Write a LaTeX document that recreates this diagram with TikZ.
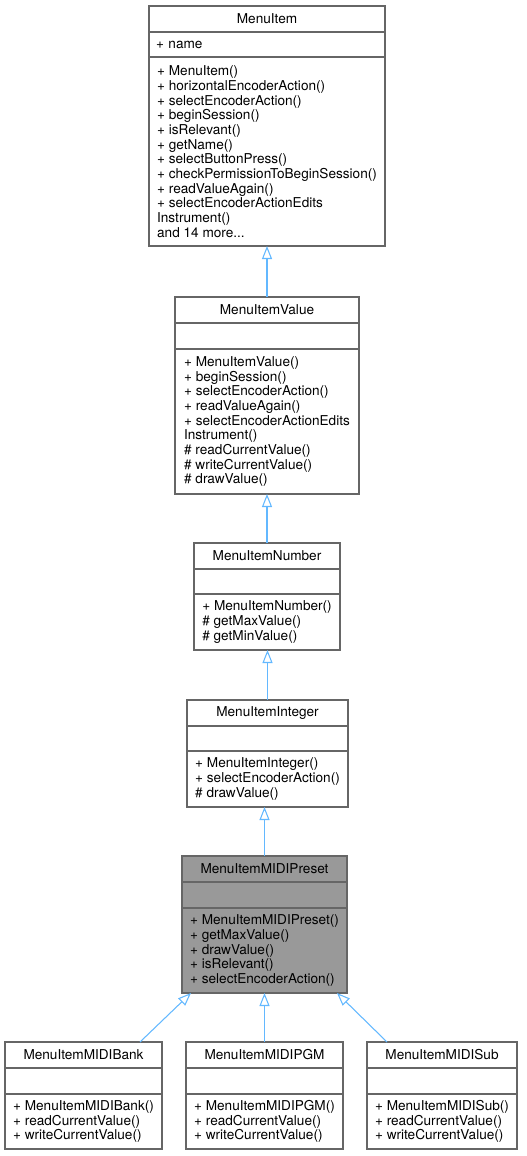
\documentclass[tikz,border=0pt]{standalone}
\usepackage{fontspec}
\setmainfont{TeX Gyre Heros}
\usetikzlibrary{arrows.meta}
\definecolor{bordergray}{HTML}{666666}
\definecolor{presetgray}{HTML}{999999}
\definecolor{edgeblue}{HTML}{63B8FF}
\begin{document}
\begin{tikzpicture}[x=0.75pt, y=-0.75pt,
  font=\fontsize{10.2}{11}\selectfont,
  sect/.style={draw=bordergray, line width=1pt, fill=white, anchor=north west,
    inner sep=0pt, outer sep=0pt, align=left},
  cls/.style 2 args={sect, minimum width=#1*0.75pt, minimum height=#2*0.75pt},
  hl/.style={fill=presetgray},
  edge/.style={draw=edgeblue, line width=0.8pt, -{Triangle[open, length=9.75pt, width=7.5pt]}}]
\useasboundingbox (0,0) rectangle (527,1156);
% MenuItem
\node[cls={236}{26}] (miT) at (149,6) {MenuItem};
\node[cls={236}{25}, text width=222*0.75pt, inner xsep=7*0.75pt] (miA) at (149,32) {+ name};
\node[cls={236}{189}] (miM) at (149,57) {+ MenuItem()\\+ horizontalEncoderAction()\\+ selectEncoderAction()\\+ beginSession()\\+ isRelevant()\\+ getName()\\+ selectButtonPress()\\+ checkPermissionToBeginSession()\\+ readValueAgain()\\+ selectEncoderActionEdits\\Instrument()\\and 14 more...};
% MenuItemValue
\node[cls={184}{26}] (mvT) at (175,297) {MenuItemValue};
\node[cls={184}{26}] (mvA) at (175,323) {};
\node[cls={184}{145}] (mvM) at (175,349) {+ MenuItemValue()\\+ beginSession()\\+ selectEncoderAction()\\+ readValueAgain()\\+ selectEncoderActionEdits\\Instrument()\\\# readCurrentValue()\\\# writeCurrentValue()\\\# drawValue()};
% MenuItemNumber
\node[cls={146}{26}] (mnT) at (194,543) {MenuItemNumber};
\node[cls={146}{25}] (mnA) at (194,569) {};
\node[cls={146}{56}] (mnM) at (194,594) {+ MenuItemNumber()\\\# getMaxValue()\\\# getMinValue()};
% MenuItemInteger
\node[cls={161}{26}] (mintT) at (187,700) {MenuItemInteger};
\node[cls={161}{25}] (mintA) at (187,726) {};
\node[cls={161}{56}] (mintM) at (187,751) {+ MenuItemInteger()\\+ selectEncoderAction()\\\# drawValue()};
% MenuItemMIDIPreset
\node[cls={165}{26}, hl] (mpT) at (182,856) {MenuItemMIDIPreset};
\node[cls={165}{26}, hl] (mpA) at (182,882) {};
\node[cls={165}{85}, hl] (mpM) at (182,908) {+ MenuItemMIDIPreset()\\+ getMaxValue()\\+ drawValue()\\+ isRelevant()\\+ selectEncoderAction()};
% MenuItemMIDIBank
\node[cls={157}{26}] (bkT) at (5,1042) {MenuItemMIDIBank};
\node[cls={157}{26}] (bkA) at (5,1068) {};
\node[cls={157}{55}] (bkM) at (5,1094) {+ MenuItemMIDIBank()\\+ readCurrentValue()\\+ writeCurrentValue()};
% MenuItemMIDIPGM
\node[cls={157}{26}] (pgT) at (186,1042) {MenuItemMIDIPGM};
\node[cls={157}{26}] (pgA) at (186,1068) {};
\node[cls={157}{55}] (pgM) at (186,1094) {+ MenuItemMIDIPGM()\\+ readCurrentValue()\\+ writeCurrentValue()};
% MenuItemMIDISub
\node[cls={150}{26}] (sbT) at (367,1042) {MenuItemMIDISub};
\node[cls={150}{26}] (sbA) at (367,1068) {};
\node[cls={150}{55}] (sbM) at (367,1094) {+ MenuItemMIDISub()\\+ readCurrentValue()\\+ writeCurrentValue()};
% inheritance edges
\draw[edge] (mvT.north) -- (mvT.north |- miM.south);
\draw[edge] (mnT.north) -- (mnT.north |- mvM.south);
\draw[edge] (mintT.north) -- (mintT.north |- mnM.south);
\draw[edge] (mpT.north) -- (mpT.north |- mintM.south);
\draw[edge] ([xshift=-22*0.75pt]bkT.north east) -- ([xshift=9*0.75pt]mpM.south west);
\draw[edge] (pgT.north) -- (pgT.north |- mpM.south);
\draw[edge] ([xshift=20*0.75pt]sbT.north west) -- ([xshift=-10*0.75pt]mpM.south east);
\end{tikzpicture}
\end{document}
